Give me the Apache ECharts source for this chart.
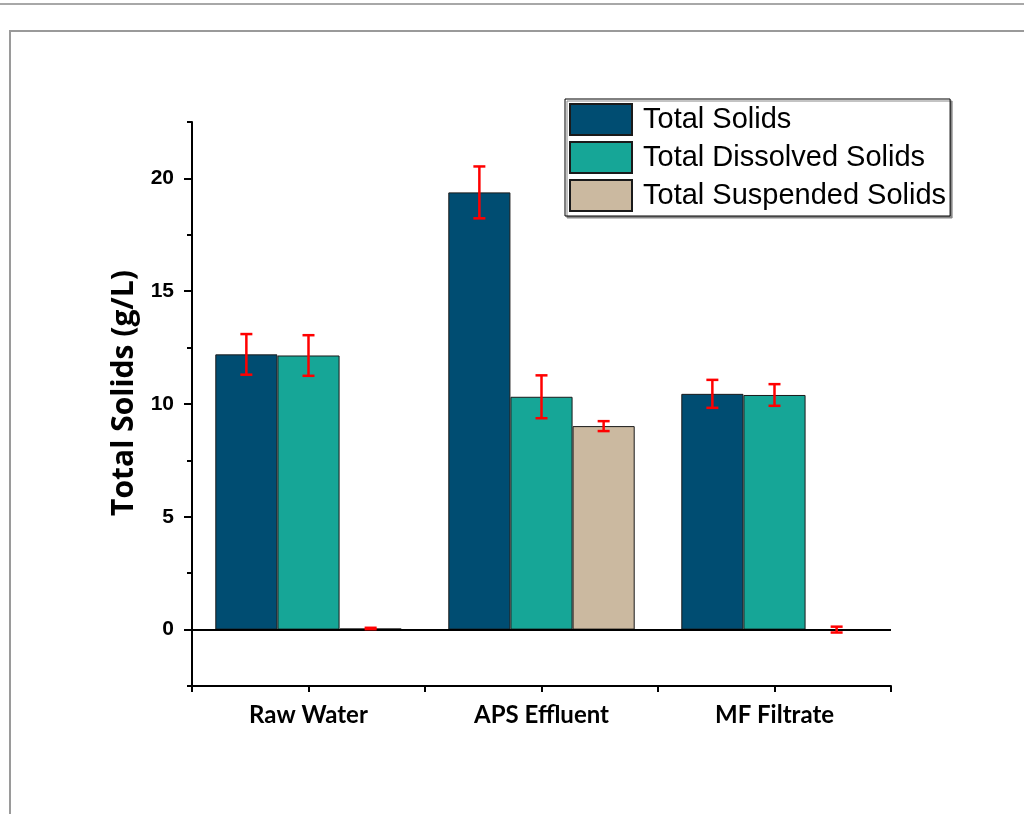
<!DOCTYPE html>
<html>
<head>
<meta charset="utf-8">
<script src="https://cdn.jsdelivr.net/npm/echarts@6/dist/echarts.min.js"></script>
<style>
  html, body { margin: 0; padding: 0; background: #fff; }
  #chart { width: 1024px; height: 814px; }
</style>
</head>
<body>
<div id="chart"></div>
<script>
// data
const categories = ['Raw Water', 'APS Effluent', 'MF Filtrate'];
const seriesNames = ['Total Solids', 'Total Dissolved Solids', 'Total Suspended Solids'];
const tsMean = [12.2, 19.38, 10.45];
const tsErr = [0.9, 1.15, 0.62];
const tdsMean = [12.15, 10.32, 10.4];
const tdsErr = [0.9, 0.95, 0.48];
const tssMean = [0.05, 9.02, 0.0];
const tssErr = [0.03, 0.22, 0.13];
const majorTicks = [0, 5, 10, 15, 20];
const minorTicks = [-2.5, 2.5, 7.5, 12.5, 17.5, 22.5];

const colors = ['#004D72', '#16A697', '#CBB9A0'];
const means = [tsMean, tdsMean, tssMean];
const errs = [tsErr, tdsErr, tssErr];

// [category, series, low, high]
const errData = [];
means.forEach((m, s) => {
  m.forEach((v, c) => {
    errData.push([c, s, v - errs[s][c], v + errs[s][c]]);
  });
});

const chart = echarts.init(document.getElementById('chart'));

const barSeries = seriesNames.map((name, i) => ({
  name: name,
  type: 'bar',
  data: means[i],
  barGap: '0%',
  barCategoryGap: '20%',
  itemStyle: { color: colors[i], borderColor: '#1a1a1a', borderWidth: 1 },
  markLine: i === 0 ? {
    silent: true,
    symbol: 'none',
    label: { show: false },
    lineStyle: { color: '#000', width: 2, type: 'solid' },
    data: [{ yAxis: 0 }]
  } : undefined
}));

const option = {
  animation: false,
  graphic: [
    { type: 'line', shape: { x1: 0, y1: 4, x2: 1024, y2: 4 }, style: { stroke: '#a8a8a8', lineWidth: 2 } },
    { type: 'rect', shape: { x: 10, y: 31, width: 1100, height: 900 }, style: { fill: null, stroke: '#9a9a9a', lineWidth: 2 } }
  ],
  grid: { left: 192, right: 133, top: 122, bottom: 128 },
  legend: {
    data: seriesNames,
    orient: 'vertical',
    left: 565,
    top: 99,
    itemWidth: 62,
    itemHeight: 31,
    itemGap: 5,
    padding: [4, 4, 4, 4],
    icon: 'rect',
    backgroundColor: '#fff',
    borderColor: '#000',
    borderWidth: 1,
    shadowColor: '#888',
    shadowOffsetX: 2,
    shadowOffsetY: 2,
    shadowBlur: 0,
    textStyle: { fontFamily: 'Liberation Sans', fontSize: 29, color: '#000', padding: [0, 0, 0, 6] }
  },
  xAxis: [
    {
      type: 'category',
      data: categories,
      position: 'bottom',
      axisLine: { onZero: false, lineStyle: { color: '#000', width: 2 } },
      axisTick: { show: false },
      axisLabel: { margin: 17, color: '#000', fontFamily: 'Lato', fontWeight: 'bold', fontSize: 24 }
    },
    {
      type: 'category',
      data: ['', '', '', '', '', ''],
      position: 'bottom',
      axisLine: { show: false, onZero: false },
      axisTick: { show: true, interval: 0, length: 6, lineStyle: { color: '#000', width: 2 } },
      axisLabel: { show: false }
    }
  ],
  yAxis: [
    {
      type: 'value',
      min: -2.5,
      max: 22.5,
      interval: 2.5,
      name: 'Total Solids (g/L)',
      nameLocation: 'middle',
      nameGap: 52,
      nameTextStyle: { fontFamily: 'Open Sans', fontWeight: 'bold', fontSize: 30, color: '#000', padding: [0, 0, 0, 22] },
      axisLine: { show: true, lineStyle: { color: '#000', width: 2 } },
      axisTick: { show: true, customValues: majorTicks, length: 8, lineStyle: { color: '#000', width: 2 } },
      axisLabel: { customValues: majorTicks, margin: 18, color: '#000', fontFamily: 'Liberation Sans', fontWeight: 'bold', fontSize: 21 },
      splitLine: { show: false }
    },
    {
      type: 'value',
      min: -2.5,
      max: 22.5,
      interval: 2.5,
      position: 'left',
      axisLine: { show: false },
      axisTick: { show: true, customValues: minorTicks, length: 5, lineStyle: { color: '#000', width: 2 } },
      axisLabel: { show: false },
      splitLine: { show: false }
    }
  ],
  series: barSeries.concat([{
    type: 'custom',
    name: 'errors',
    z: 10,
    data: errData,
    encode: { x: 0, y: [2, 3] },
    renderItem: function (params, api) {
      const c = api.value(0);
      const s = api.value(1);
      const catW = api.size([1, 0])[0];
      const barW = catW * 0.8 / 3;
      const center = api.coord([c, 0])[0];
      const x = center - catW * 0.4 + barW * (s + 0.5);
      const lo = api.coord([c, api.value(2)])[1];
      const hi = api.coord([c, api.value(3)])[1];
      const cap = 6;
      const style = { stroke: '#ff0000', lineWidth: 2.5 };
      return {
        type: 'group',
        children: [
          { type: 'line', shape: { x1: x, y1: lo, x2: x, y2: hi }, style: style },
          { type: 'line', shape: { x1: x - cap, y1: lo, x2: x + cap, y2: lo }, style: style },
          { type: 'line', shape: { x1: x - cap, y1: hi, x2: x + cap, y2: hi }, style: style }
        ]
      };
    }
  }])
};

chart.setOption(option);
</script>
</body>
</html>
